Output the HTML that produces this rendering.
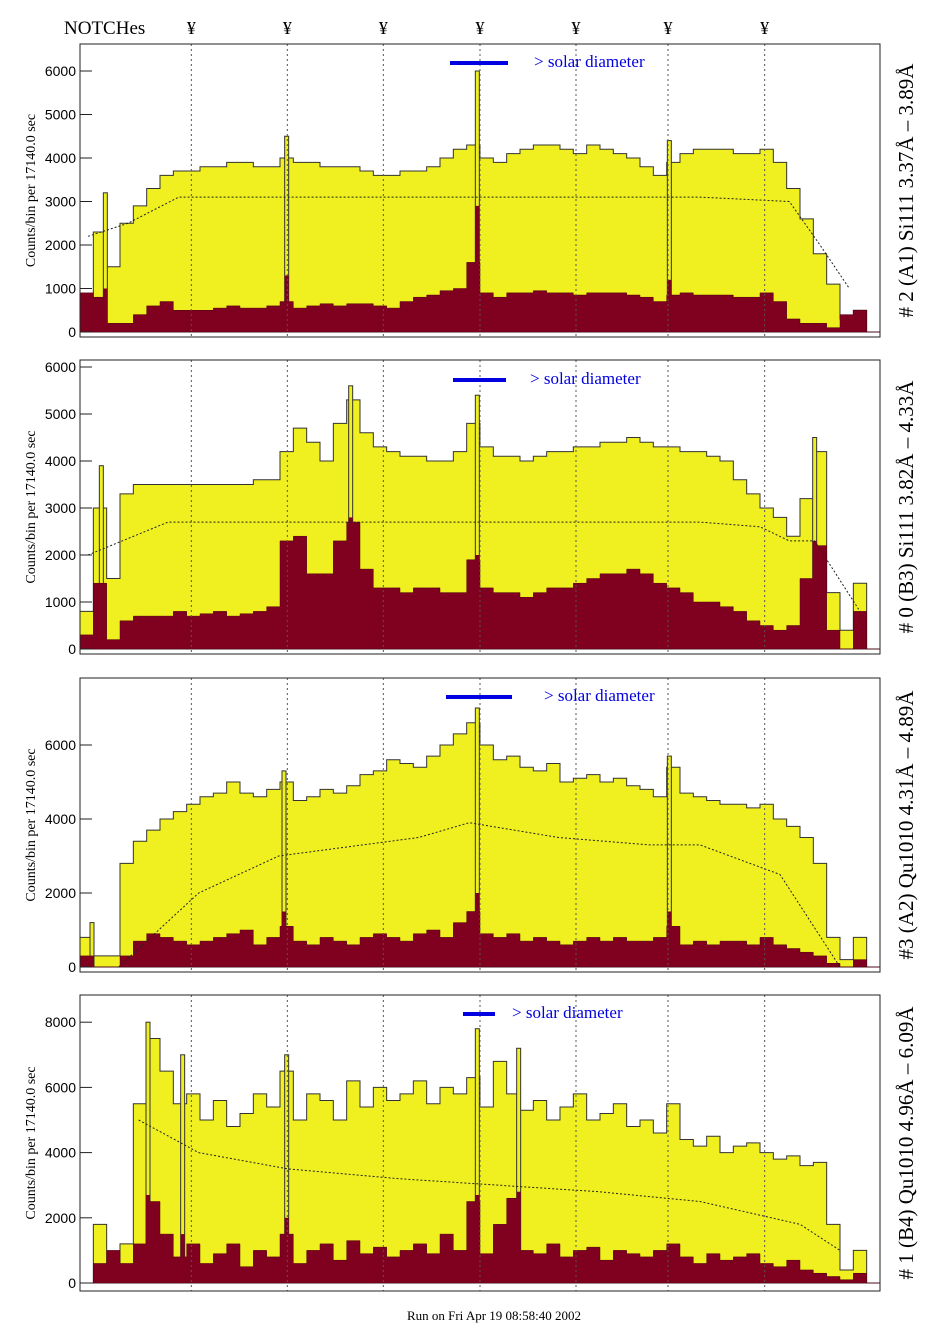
<!DOCTYPE html>
<html><head><meta charset="utf-8">
<style>
html,body{margin:0;padding:0;background:#fff;}
svg{display:block;}
text{font-family:"Liberation Serif",serif;}
.tick{font-family:"Liberation Sans",sans-serif;font-size:14px;}
</style></head>
<body>
<svg id="chart" width="943" height="1331" viewBox="0 0 943 1331" xmlns="http://www.w3.org/2000/svg">
<text x="64" y="34" font-size="19">NOTCHes</text>
<text x="494" y="1320" font-size="13" text-anchor="middle">Run on Fri Apr 19 08:58:40 2002</text>
</svg>
<script>
// ----- data -----
const nBins = 60;
const notchBins = [8.35, 15.55, 22.75, 30.0, 37.2, 44.1, 51.35];
const p1Total = [300,2300,1500,2500,2900,3300,3600,3700,3700,3800,3800,3900,3900,3800,3800,4000,3900,3900,3800,3800,3800,3700,3600,3600,3700,3700,3800,4000,4200,4300,4000,3900,4100,4200,4300,4300,4200,4100,4300,4200,4100,4000,3800,3600,3900,4100,4200,4200,4200,4100,4100,4200,3900,3300,2600,1800,1100,300,500,0];
const p1Filt = [900,800,200,200,400,600,700,500,500,500,550,600,550,550,600,700,550,600,650,600,650,650,600,550,700,800,850,950,1000,1600,900,800,900,900,950,900,900,850,900,900,900,850,800,700,850,900,850,850,850,800,800,900,700,300,200,200,100,400,500,0];
const p1CurveX = [0.6,3.6,7.4,16.4,31.4,46.5,53.2,55.5,57.7];
const p1CurveY = [2200,2500,3100,3100,3100,3100,3000,2000,1000];
const p1SpikeX = [1.9,15.5,29.8,44.2];
const p1SpikeY = [3200,4500,6000,4400];
const p1SpikeF = [1000,1300,2900,1200];

const p2Total = [800,3000,1500,3300,3500,3500,3500,3500,3500,3500,3500,3500,3500,3600,3600,4200,4700,4400,4000,4800,5300,4600,4300,4200,4100,4100,4000,4000,4200,4800,4300,4100,4100,4000,4100,4200,4200,4300,4300,4400,4400,4500,4400,4300,4300,4200,4200,4100,4000,3600,3300,3000,2800,2400,3200,4200,1200,400,1400,0];
const p2Filt = [300,1400,200,600,700,700,700,800,700,750,800,700,750,800,900,2300,2400,1600,1600,2300,2700,1700,1300,1300,1200,1300,1300,1200,1200,1900,1300,1200,1200,1100,1200,1300,1300,1400,1500,1600,1600,1700,1600,1400,1300,1200,1000,1000,900,800,600,500,400,500,1500,2200,400,0,800,0];
const p2CurveX = [0.6,6.6,16.4,31.4,46.5,51,53.2,55.1,58.5];
const p2CurveY = [2000,2700,2700,2700,2700,2600,2300,2300,800];
const p2SpikeX = [1.6,20.3,29.8,55.1];
const p2SpikeY = [3900,5600,5400,4500];
const p2SpikeF = [1400,2800,2000,2300];

const p3Total = [800,300,300,2800,3400,3700,4000,4200,4400,4600,4700,5000,4700,4600,4800,5000,4500,4600,4800,4700,4900,5200,5300,5600,5500,5400,5700,6000,6300,6600,6000,5600,5700,5400,5300,5500,5000,5100,5200,5000,5100,4900,4800,4600,5400,4700,4600,4500,4400,4400,4300,4400,4000,3800,3500,2800,800,200,800,0];
const p3Filt = [300,0,0,300,700,900,800,700,600,700,800,900,1000,600,800,1100,700,600,800,700,600,800,900,800,700,900,1000,800,1200,1500,900,800,900,700,800,700,600,700,800,700,800,700,700,800,1100,600,700,600,700,700,600,800,600,500,400,300,100,0,200,0];
const p3CurveX = [2.9,8.9,14.9,25.4,29.2,35.9,42.7,46.5,52.5,57];
const p3CurveY = [0,2000,3000,3500,3900,3500,3300,3300,2500,0];
const p3SpikeX = [0.9,15.3,29.8,44.2];
const p3SpikeY = [1200,5300,7000,5700];
const p3SpikeF = [300,1500,2000,1500];

const p4Total = [0,1800,600,1200,5500,7500,6500,5500,5800,5000,5600,4800,5200,5800,5400,6500,5000,5800,5600,5000,6200,5400,6000,5600,5800,6200,5500,6000,5800,6300,5400,6800,5800,5300,5600,5000,5400,5800,5000,5200,5500,4800,5000,4600,5500,4400,4200,4500,4000,4200,4300,4000,3800,3900,3600,3700,1800,400,1000,0];
const p4Filt = [0,600,1000,600,1200,2500,1500,800,1200,600,900,1200,500,1000,800,1500,600,1000,1200,700,1300,900,1100,800,1000,1200,900,1500,1000,2500,900,1800,2600,1000,900,1200,800,1000,1100,700,1000,900,800,1000,1200,800,600,900,700,800,900,600,500,700,400,300,200,100,300,0];
const p4CurveX = [4.4,8.9,15.6,23.9,31.4,38.9,46.5,54,57];
const p4CurveY = [5000,4000,3500,3200,3000,2800,2500,1800,1000];
const p4SpikeX = [5.1,7.7,15.5,29.8,32.9];
const p4SpikeY = [8000,7000,7000,7800,7200];
const p4SpikeF = [2700,1500,2000,2700,2800];

const p1Ticks = [0,1000,2000,3000,4000,5000,6000];
const p2Ticks = [0,1000,2000,3000,4000,5000,6000];
const p3Ticks = [0,2000,4000,6000];
const p4Ticks = [0,2000,4000,6000,8000];
const panelLabels = ["# 2 (A1) Si111  3.37Å – 3.89Å","# 0 (B3) Si111  3.82Å – 4.33Å","#3 (A2) Qu1010  4.31Å – 4.89Å","# 1 (B4) Qu1010 4.96Å – 6.09Å"];

// ----- layout -----
const NS = "http://www.w3.org/2000/svg";
const svg = document.getElementById('chart');
const X0 = 80, X1 = 880;
const bw = (X1 - X0) / nBins;
function xScale(b){ return X0 + b * bw; }
function mk(tag, attrs, parent){
  const e = document.createElementNS(NS, tag);
  for (const k in attrs) e.setAttribute(k, attrs[k]);
  (parent || svg).appendChild(e);
  return e;
}
const panels = [
  {top:44,bot:337,zero:332,k:0.0435,total:p1Total,filt:p1Filt,cx:p1CurveX,cy:p1CurveY,sx:p1SpikeX,sy:p1SpikeY,sf:p1SpikeF,ticks:p1Ticks,bar:[450,508,63],txt:534},
  {top:360,bot:654,zero:649,k:0.047,total:p2Total,filt:p2Filt,cx:p2CurveX,cy:p2CurveY,sx:p2SpikeX,sy:p2SpikeY,sf:p2SpikeF,ticks:p2Ticks,bar:[453,506,380],txt:530},
  {top:678,bot:972,zero:967,k:0.037,total:p3Total,filt:p3Filt,cx:p3CurveX,cy:p3CurveY,sx:p3SpikeX,sy:p3SpikeY,sf:p3SpikeF,ticks:p3Ticks,bar:[446,512,697],txt:544},
  {top:995,bot:1291,zero:1283,k:0.0326,total:p4Total,filt:p4Filt,cx:p4CurveX,cy:p4CurveY,sx:p4SpikeX,sy:p4SpikeY,sf:p4SpikeF,ticks:p4Ticks,bar:[463,495,1014],txt:512}
];

notchBins.forEach((b,i)=>{
  const t = mk('text',{x:xScale(b),y:34,'font-size':18,'text-anchor':'middle'});
  
  
  t.textContent = '¥';
});

panels.forEach((p,pi)=>{
  const g = mk('g',{});
  
  
  const yS = v => p.zero - v * p.k;
  function stepPath(arr){
    let d = 'M' + xScale(0) + ',' + p.zero;
    arr.forEach((v,i)=>{ d += ' L' + xScale(i) + ',' + Math.max(yS(v),p.top) + ' L' + xScale(i+1) + ',' + Math.max(yS(v),p.top); });
    d += ' L' + xScale(arr.length) + ',' + p.zero + ' Z';
    return d;
  }
  const tot = mk('path',{d:stepPath(p.total),fill:'#f0f020',stroke:'#333',"stroke-width":1},g);
  
  
  p.sx.forEach((b,i)=>{
    const sp = mk('rect',{x:xScale(b)-2,y:Math.max(yS(p.sy[i]),p.top),width:4,height:p.zero-Math.max(yS(p.sy[i]),p.top),fill:'#f0f020',stroke:'#333','stroke-width':1},g);
    
    
  });
  const fl = mk('path',{d:stepPath(p.filt),fill:'#800020',stroke:'#500010','stroke-width':0.5},g);
  
  
  p.sx.forEach((b,i)=>{
    const sp = mk('rect',{x:xScale(b)-2,y:yS(p.sf[i]),width:4,height:p.zero-yS(p.sf[i]),fill:'#800020'},g);
    
    
  });
  let d='';
  p.cx.forEach((b,i)=>{ d += (i?' L':'M') + xScale(b) + ',' + yS(p.cy[i]); });
  const cv = mk('path',{d:d,fill:'none',stroke:'#222','stroke-width':1,'stroke-dasharray':'2,2'},g);
  
  
  notchBins.forEach(b=>{
    const ln = mk('line',{x1:xScale(b),x2:xScale(b),y1:p.top,y2:p.bot,stroke:'#555','stroke-width':1,'stroke-dasharray':'2,3'},g);
    
    
  });
  const fr = mk('rect',{x:X0,y:p.top,width:X1-X0,height:p.bot-p.top,fill:'none',stroke:'#222','stroke-width':1},g);
  
  
  p.ticks.forEach(v=>{
    const y = yS(v);
    mk('line',{x1:X0,x2:X0+12,y1:y,y2:y,stroke:'#222'},g);
    const t = mk('text',{x:X0-4,y:y+5,'text-anchor':'end',class:'tick'},g);
    
    
    t.textContent = v;
  });
  const ym = (p.top + p.bot)/2;
  const yt = mk('text',{x:0,y:0,'font-size':14,'text-anchor':'middle',transform:'translate(35,'+ym+') rotate(-90)'},g);
  
  
  yt.textContent = 'Counts/bin per  17140.0 sec';
  const sb = mk('line',{x1:p.bar[0],x2:p.bar[1],y1:p.bar[2],y2:p.bar[2],stroke:'#0000e0','stroke-width':4},g);
  
  
  const st = mk('text',{x:p.txt,y:p.bar[2]+4,'font-size':17,fill:'#0000e0'},g);
  
  
  st.textContent = '> solar diameter';
  const rl = mk('text',{x:0,y:0,'font-size':21,'text-anchor':'middle',transform:'translate(913,'+ym+') rotate(-90)'},g);
  
  
  rl.textContent = panelLabels[pi];
});
</script>
</body></html>
